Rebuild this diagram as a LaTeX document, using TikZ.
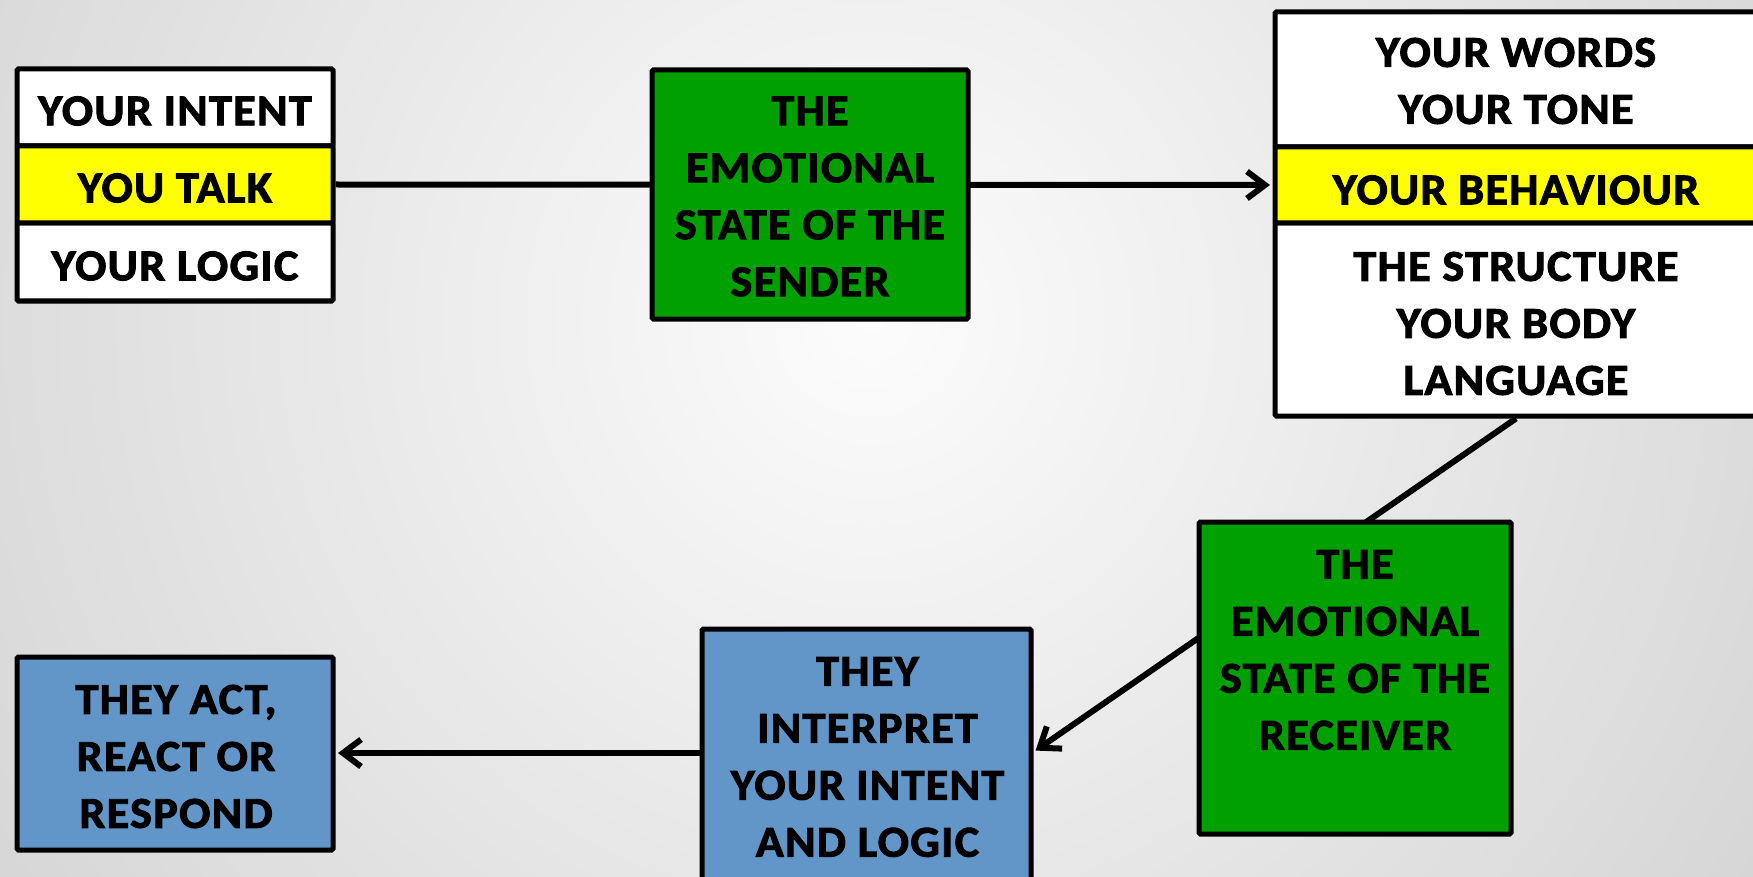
\documentclass[tikz,border=0pt]{standalone}
\usepackage{fontspec}
\setmainfont{Carlito}[FakeBold=2.2,FakeStretch=1.05,LetterSpace=3.0]
\usetikzlibrary{arrows.meta,calc}

\definecolor{boxgreen}{RGB}{0,160,0}
\definecolor{boxblue}{RGB}{98,150,201}
\definecolor{boxyellow}{RGB}{255,255,0}
\definecolor{bgedge}{RGB}{172,172,172}
\definecolor{bgcore}{RGB}{252,252,252}

% soft light spot in the middle of the slide
\pgfdeclareradialshading{bgglow}{\pgfpoint{0bp}{0bp}}{color(0bp)=(bgcore); color(50bp)=(bgedge)}

\pgfdeclarelayer{backdrop}
\pgfdeclarelayer{links}
\pgfsetlayers{backdrop,links,main}

\begin{document}
\begin{tikzpicture}[x=1pt,y=-1pt,
  panel/.style={draw=black,line width=5pt,rounded corners=1.5pt,inner sep=0pt},
  txt/.style={font=\fontsize{44}{57}\selectfont\bfseries,align=center,inner sep=0pt,text=black},
  link/.style={line width=6pt,draw=black},
  arrowed/.style={-{Straight Barb[length=18pt,width=27pt]},shorten >=2.5pt}
]
\useasboundingbox (0,0) rectangle (1753,877);

% background
\begin{pgfonlayer}{backdrop}
  \fill[bgedge] (0,0) rectangle (1753,877);
  \begin{scope}
    \clip (0,0) rectangle (1753,877);
    \shade[shading=bgglow] (870,320) circle [radius=1100pt];
  \end{scope}
\end{pgfonlayer}

% sender side: three stacked rows
\node[panel,fill=white,minimum width=316pt,minimum height=77pt] (lb1) at (175,107.5) {};
\node[panel,fill=white,minimum width=316pt,minimum height=78pt] (lb3) at (175,262) {};
\node[panel,fill=boxyellow,minimum width=316pt,minimum height=77pt] (lb2) at (175,184.5) {};

\node[txt] (lb1t) at (175,111) {YOUR INTENT};
\node[txt] (lb2t) at (175,188) {YOU TALK};
\node[txt] (lb3t) at (175,266) {YOUR LOGIC};

% emotional state of the sender
\node[panel,fill=boxgreen,minimum width=316pt,minimum height=249pt] (sd) at (810,194.5) {};
\node[txt] (sdt) at (810,196.5) {THE\\EMOTIONAL\\STATE OF THE\\SENDER};

% message: words, behaviour, structure
\node[panel,fill=white,minimum width=482pt,minimum height=135pt] (rb1) at (1516,79.5) {};
\node[panel,fill=white,minimum width=482pt,minimum height=193pt] (rb3) at (1516,319.5) {};
\node[panel,fill=boxyellow,minimum width=482pt,minimum height=76pt] (rb2) at (1516,185) {};

\node[txt] (rb1t) at (1516,81) {YOUR WORDS\\YOUR TONE};
\node[txt] (rb2t) at (1516,190) {YOUR BEHAVIOUR};
\node[txt] (rb3t) at (1516,323.5) {THE STRUCTURE\\YOUR BODY\\LANGUAGE};

% emotional state of the receiver
\node[panel,fill=boxgreen,minimum width=312pt,minimum height=312pt] (rc) at (1355,678) {};
\node[txt] (rct) at (1355,650) {THE\\EMOTIONAL\\STATE OF THE\\RECEIVER};

% interpretation
\node[panel,fill=boxblue,minimum width=329pt,minimum height=271pt] (ip) at (866.5,764.5) {};
\node[txt] (ipt) at (867.5,757) {THEY\\INTERPRET\\YOUR INTENT\\AND LOGIC};

% response
\node[panel,fill=boxblue,minimum width=316pt,minimum height=193pt] (ac) at (175,753.5) {};
\node[txt] (act) at (176,756.5) {THEY ACT,\\REACT OR\\RESPOND};

% connectors run underneath the boxes
\begin{pgfonlayer}{links}
  \draw[link,arrowed] (lb2.east) -- (rb2.west);
  \draw[link,arrowed] (rb3.south) -- ([yshift=12.5pt]ip.east);
  \draw[link,arrowed] ([yshift=11.5pt]ip.west) -- ([yshift=11.5pt]ip.west -| ac.east);
\end{pgfonlayer}
\end{tikzpicture}
\end{document}
